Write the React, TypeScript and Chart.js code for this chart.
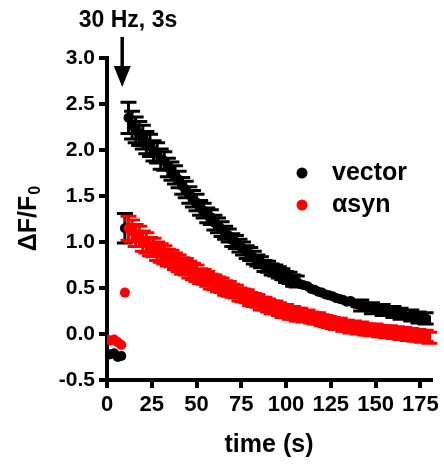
import { useEffect, useRef } from 'react';
import { Chart, registerables } from 'chart.js';

Chart.register(...registerables);

const times = [
  0, 2, 4, 6, 8, 10, 12, 14, 16, 18,
  20, 22, 24, 26, 28, 30, 32, 34, 36, 38,
  40, 42, 44, 46, 48, 50, 52, 54, 56, 58,
  60, 62, 64, 66, 68, 70, 72, 74, 76, 78,
  80, 82, 84, 86, 88, 90, 92, 94, 96, 98,
  100, 102, 104, 106, 108, 110, 112, 114, 116, 118,
  120, 122, 124, 126, 128, 130, 132, 134, 136, 138,
  140, 142, 144, 146, 148, 150, 152, 154, 156, 158,
  160, 162, 164, 166, 168, 170, 172, 174, 176, 178,
  180,
];

const vectorMean = [
  -0.23, -0.22, -0.21, -0.25, -0.24, 1.15, 2.35, 2.27, 2.22, 2.18,
  2.14, 2.08, 2.05, 1.99, 1.97, 1.9, 1.88, 1.81, 1.77, 1.73,
  1.68, 1.61, 1.57, 1.51, 1.47, 1.43, 1.37, 1.34, 1.29, 1.27,
  1.21, 1.18, 1.14, 1.1, 1.07, 1.02, 1.0, 0.96, 0.93, 0.89,
  0.87, 0.83, 0.8, 0.78, 0.74, 0.73, 0.7, 0.69, 0.67, 0.65,
  0.62, 0.61, 0.58, 0.57, 0.54, 0.53, 0.52, 0.49, 0.48, 0.46,
  0.45, 0.43, 0.42, 0.41, 0.39, 0.38, 0.37, 0.35, 0.36, 0.33,
  0.32, 0.31, 0.29, 0.3, 0.28, 0.27, 0.25, 0.26, 0.24, 0.23,
  0.24, 0.21, 0.22, 0.2, 0.19, 0.2, 0.17, 0.18, 0.16, 0.17,
  0.15,
];

const vectorSem = [
  0.02, 0.02, 0.02, 0.02, 0.02, 0.16, 0.17, 0.15, 0.14, 0.13,
  0.13, 0.12, 0.12, 0.11, 0.11, 0.11, 0.1, 0.1, 0.1, 0.1,
  0.09, 0.09, 0.09, 0.09, 0.09, 0.09, 0.08, 0.08, 0.08, 0.08,
  0.08, 0.08, 0.08, 0.07, 0.07, 0.07, 0.07, 0.07, 0.07, 0.07,
  0.07, 0.07, 0.06, 0.06, 0.06, 0.06, 0.06, 0.06, 0.06, 0.06,
  0.06, 0.06, 0.06, 0.06, 0.05, 0.05, 0.05, 0.05, 0.05, 0.05,
  0.05, 0.05, 0.05, 0.05, 0.05, 0.05, 0.05, 0.05, 0.05, 0.05,
  0.05, 0.06, 0.05, 0.05, 0.06, 0.05, 0.05, 0.06, 0.05, 0.05,
  0.06, 0.05, 0.06, 0.05, 0.05, 0.06, 0.05, 0.06, 0.05, 0.06,
  0.05,
];

const asynMean = [
  -0.06, -0.07, -0.06, -0.09, -0.12, 0.45, 1.15, 1.12, 1.07, 1.06,
  1.01, 0.99, 0.95, 0.94, 0.9, 0.88, 0.86, 0.83, 0.82, 0.79,
  0.77, 0.74, 0.73, 0.7, 0.68, 0.66, 0.63, 0.62, 0.6, 0.57,
  0.56, 0.54, 0.53, 0.5, 0.49, 0.47, 0.46, 0.43, 0.42, 0.41,
  0.38, 0.37, 0.36, 0.33, 0.33, 0.31, 0.29, 0.29, 0.27, 0.25,
  0.25, 0.23, 0.23, 0.21, 0.21, 0.19, 0.2, 0.18, 0.17, 0.17,
  0.15, 0.14, 0.13, 0.12, 0.11, 0.11, 0.09, 0.09, 0.07, 0.08,
  0.06, 0.07, 0.05, 0.05, 0.04, 0.05, 0.03, 0.03, 0.02, 0.03,
  0.01, 0.02, 0.0, 0.01, -0.01, 0.0, -0.02, -0.01, -0.03, -0.02,
  -0.04,
];

const asynSem = [
  0.02, 0.02, 0.02, 0.02, 0.02, 0.03, 0.13, 0.12, 0.12, 0.11,
  0.11, 0.11, 0.1, 0.1, 0.1, 0.1, 0.1, 0.09, 0.09, 0.09,
  0.09, 0.09, 0.09, 0.09, 0.09, 0.09, 0.08, 0.08, 0.08, 0.08,
  0.08, 0.08, 0.08, 0.08, 0.08, 0.07, 0.07, 0.07, 0.07, 0.07,
  0.07, 0.07, 0.07, 0.07, 0.07, 0.07, 0.07, 0.07, 0.07, 0.07,
  0.07, 0.07, 0.07, 0.07, 0.07, 0.06, 0.06, 0.06, 0.06, 0.06,
  0.06, 0.06, 0.06, 0.06, 0.06, 0.06, 0.06, 0.06, 0.06, 0.06,
  0.06, 0.06, 0.06, 0.06, 0.06, 0.06, 0.06, 0.06, 0.06, 0.06,
  0.06, 0.06, 0.06, 0.06, 0.06, 0.06, 0.06, 0.06, 0.06, 0.06,
  0.06,
];

const seriesLabels = ['vector', 'αsyn'];
const seriesColors = ['#000000', '#ff0000'];
const xTickValues = [0, 25, 50, 75, 100, 125, 150, 175];
const yTickValues = [-0.5, 0, 0.5, 1, 1.5, 2, 2.5, 3];
const stimulusLabel = '30 Hz, 3s';
const stimulusTime = 8.5;
const xTitle = 'time (s)';
const yTitleMain = 'ΔF/F';
const yTitleSub = '0';

const FONT = "'Liberation Sans', Arial, sans-serif";
const POINT_R = 5;

const errorBarPlugin = {
  id: 'errorBars',
  beforeDatasetDraw(chart: any, args: any) {
    const ds = chart.data.datasets[args.index];
    const errs: number[] = ds.errors || [];
    const xs = chart.scales.x;
    const ys = chart.scales.y;
    const ctx = chart.ctx;
    ctx.save();
    ctx.strokeStyle = ds.backgroundColor;
    ctx.lineWidth = 3;
    const cap = 8;
    ds.data.forEach((p: any, i: number) => {
      const e = errs[i] || 0;
      const px = xs.getPixelForValue(p.x);
      const top = ys.getPixelForValue(p.y + e);
      const bot = ys.getPixelForValue(p.y - e);
      if ((bot - top) / 2 <= POINT_R) return; // hidden behind the symbol
      ctx.beginPath();
      ctx.moveTo(px, top);
      ctx.lineTo(px, bot);
      ctx.moveTo(px - cap, top);
      ctx.lineTo(px + cap, top);
      ctx.moveTo(px - cap, bot);
      ctx.lineTo(px + cap, bot);
      ctx.stroke();
    });
    ctx.restore();
  },
};

const annotationPlugin = {
  id: 'annotations',
  afterDraw(chart: any) {
    const ctx = chart.ctx;
    const xs = chart.scales.x;
    const area = chart.chartArea;
    ctx.save();
    ctx.fillStyle = '#000';
    ctx.font = `bold 23px ${FONT}`;
    ctx.textAlign = 'center';
    ctx.textBaseline = 'middle';
    ctx.fillText(stimulusLabel, 128, 21);
    const ax = xs.getPixelForValue(stimulusTime);
    ctx.strokeStyle = '#000';
    ctx.lineWidth = 3.5;
    ctx.beginPath();
    ctx.moveTo(ax, 37);
    ctx.lineTo(ax, 70);
    ctx.stroke();
    ctx.beginPath();
    ctx.moveTo(ax - 8.5, 66);
    ctx.lineTo(ax + 8.5, 66);
    ctx.lineTo(ax, 87);
    ctx.closePath();
    ctx.fill();

    ctx.save();
    const cy = (area.top + area.bottom) / 2;
    ctx.translate(27, cy);
    ctx.rotate(-Math.PI / 2);
    ctx.font = `bold 25px ${FONT}`;
    const mainW = ctx.measureText(yTitleMain).width;
    ctx.font = `bold 16px ${FONT}`;
    const subW = ctx.measureText(yTitleSub).width;
    const startX = -(mainW + subW) / 2;
    ctx.textAlign = 'left';
    ctx.textBaseline = 'alphabetic';
    ctx.font = `bold 25px ${FONT}`;
    ctx.fillText(yTitleMain, startX, 9);
    ctx.font = `bold 16px ${FONT}`;
    ctx.fillText(yTitleSub, startX + mainW + 1, 13);
    ctx.restore();

    ctx.textAlign = 'left';
    ctx.textBaseline = 'middle';
    ctx.font = `bold 25px ${FONT}`;
    chart.data.datasets.forEach((ds: any, i: number) => {
      const ly = 173 + i * 32;
      ctx.fillStyle = ds.backgroundColor;
      ctx.beginPath();
      ctx.arc(302, ly, 5.5, 0, Math.PI * 2);
      ctx.fill();
      ctx.fillStyle = '#000';
      ctx.fillText(ds.label, 332, ly);
    });
    ctx.restore();
  },
};

export default function App() {
  const ref = useRef<HTMLCanvasElement | null>(null);
  useEffect(() => {
    document.body.style.margin = '0';
    const canvas = ref.current!;
    const makeData = (m: number[]) => m.map((v, i) => ({ x: times[i], y: v }));
    const chart = new Chart(canvas, {
      type: 'scatter',
      data: {
        datasets: [
          {
            label: seriesLabels[0],
            data: makeData(vectorMean),
            errors: vectorSem,
            backgroundColor: seriesColors[0],
            borderColor: seriesColors[0],
            pointRadius: POINT_R,
            pointBorderWidth: 0,
            order: 1,
          } as any,
          {
            label: seriesLabels[1],
            data: makeData(asynMean),
            errors: asynSem,
            backgroundColor: seriesColors[1],
            borderColor: seriesColors[1],
            pointRadius: POINT_R,
            pointBorderWidth: 0,
            order: 0,
          } as any,
        ],
      },
      options: {
        responsive: false,
        animation: false,
        devicePixelRatio: 1,
        layout: { padding: { top: 58, right: 13, left: 0, bottom: 0 } },
        plugins: {
          legend: { display: false },
          tooltip: { enabled: false },
        },
        scales: {
          x: {
            type: 'linear',
            min: 0,
            max: 181,
            afterFit: (s: any) => { s.height = 84; },
            afterBuildTicks: (s: any) => { s.ticks = xTickValues.map((v) => ({ value: v })); },
            grid: { drawOnChartArea: false, drawTicks: true, tickLength: 8, color: '#000', lineWidth: 4 },
            border: { color: '#000', width: 4 },
            ticks: { color: '#000', font: { family: FONT, size: 22, weight: 'bold' }, padding: 4, maxRotation: 0 },
            title: { display: true, text: xTitle, color: '#000', font: { family: FONT, size: 25, weight: 'bold', lineHeight: 1.2 }, padding: { top: 0, bottom: 4 } },
          },
          y: {
            type: 'linear',
            min: -0.5,
            max: 3,
            afterFit: (s: any) => { s.width = 107; },
            afterBuildTicks: (s: any) => { s.ticks = yTickValues.map((v) => ({ value: v })); },
            grid: { drawOnChartArea: false, drawTicks: true, tickLength: 8, color: '#000', lineWidth: 4 },
            border: { color: '#000', width: 4 },
            ticks: {
              color: '#000',
              font: { family: FONT, size: 21, weight: 'bold' },
              padding: 4,
              callback: (v: any) => Number(v).toFixed(1),
            },
          },
        },
      } as any,
      plugins: [errorBarPlugin, annotationPlugin],
    });
    return () => chart.destroy();
  }, []);
  return <canvas ref={ref} width={444} height={464} style={{ display: 'block' }} />;
}
